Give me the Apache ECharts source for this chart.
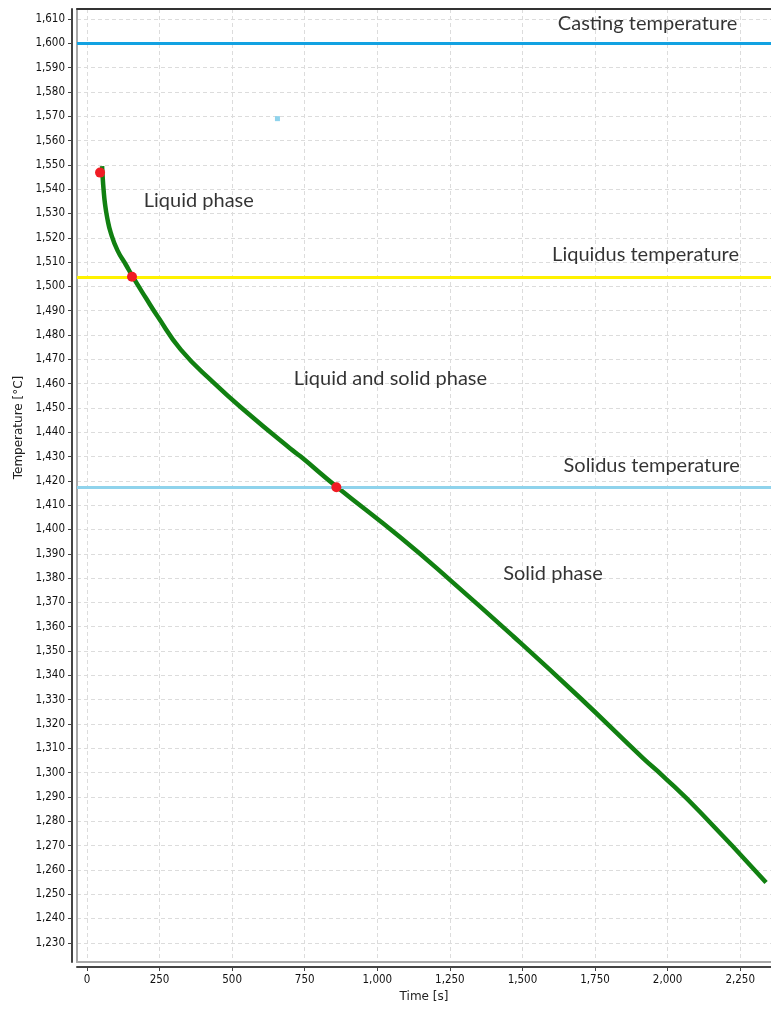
<!DOCTYPE html>
<html><head><meta charset="utf-8">
<script src="https://cdn.jsdelivr.net/npm/echarts@6/dist/echarts.min.js"></script>
<style>html,body{margin:0;padding:0;background:#fff}#c{width:771px;height:1012px}</style>
</head><body><div id="c"></div>
<script>
const xTicks = [0, 250, 500, 750, 1000, 1250, 1500, 1750, 2000, 2250];
const yTicks = [1230, 1240, 1250, 1260, 1270, 1280, 1290, 1300, 1310, 1320, 1330, 1340, 1350, 1360, 1370, 1380, 1390, 1400, 1410, 1420, 1430, 1440, 1450, 1460, 1470, 1480, 1490, 1500, 1510, 1520, 1530, 1540, 1550, 1560, 1570, 1580, 1590, 1600, 1610];

const coolingTime = [52, 54, 57, 62, 70, 82, 105, 134, 157, 203, 243, 323, 437, 552, 701, 735, 861, 1079, 1251, 1468, 1698, 1915, 1984, 2110, 2339];
const coolingTemp = [1549.5, 1545, 1540, 1534, 1528, 1522, 1514.8, 1508.9, 1504.1, 1495.2, 1487.7, 1474, 1460.3, 1448, 1433.2, 1430.1, 1417.5, 1396.8, 1379.2, 1356.1, 1330.8, 1306, 1298.6, 1284, 1254.8];

const castingTemp = 1600;
const liquidusTemp = 1503.6;
const solidusTemp = 1417.3;

const phasePointTime = [45, 155, 859];
const phasePointTemp = [1546.8, 1504, 1417.4];

const strayPoint = [656, 1569];

const annotationText = ['Casting temperature', 'Liquidus temperature', 'Solidus temperature', 'Liquid phase', 'Liquid and solid phase', 'Solid phase'];
const annotationTime = [1931, 1924, 1945, 385, 1045, 1605];
const annotationTemp = [1608, 1513, 1426.3, 1535.2, 1462, 1382];

const fmt = v => Number(v).toLocaleString('en-US');
const X_MIN = -34.4, X_MAX = 2356, Y_MIN = 1222.1, Y_MAX = 1614.1;
const frameAxis = { axisTick: { show: false }, axisLabel: { show: false }, splitLine: { show: false } };

const chart = echarts.init(document.getElementById('c'));
chart.setOption({
  animation: false,
  backgroundColor: '#fff',
  grid: { left: 77, top: 9, right: 0, bottom: 50, show: false },
  xAxis: [{
    type: 'value', min: X_MIN, max: X_MAX, offset: 5,
    name: 'Time [s]', nameLocation: 'middle', nameGap: 24,
    nameTextStyle: { fontFamily: 'DejaVu Sans', fontSize: 12, color: '#222' },
    axisLine: { show: true, onZero: false, lineStyle: { color: '#444', width: 2 } },
    axisTick: { show: true, customValues: xTicks, length: 4, lineStyle: { color: '#444' } },
    axisLabel: { customValues: xTicks, formatter: fmt, fontFamily: 'DejaVu Sans Condensed', fontSize: 11.5, color: '#111', margin: 7 },
    splitLine: { show: true, lineStyle: { color: '#dcdcdc', type: [4, 3], width: 1 } }
  }, Object.assign({
    type: 'value', position: 'top', min: X_MIN, max: X_MAX,
    axisLine: { show: true, onZero: false, lineStyle: { color: '#333', width: 2 } }
  }, frameAxis), Object.assign({
    type: 'value', position: 'bottom', min: X_MIN, max: X_MAX,
    axisLine: { show: true, onZero: false, lineStyle: { color: '#a8a8a8', width: 2 } }
  }, frameAxis)],
  yAxis: [{
    type: 'value', min: Y_MIN, max: Y_MAX, offset: 5,
    name: 'Temperature [°C]', nameLocation: 'middle', nameGap: 44,
    nameTextStyle: { fontFamily: 'DejaVu Sans', fontSize: 12, color: '#222', padding: [0, 0, 0, 116] },
    axisLine: { show: true, onZero: false, lineStyle: { color: '#444', width: 2 } },
    axisTick: { show: true, customValues: yTicks, length: 4, lineStyle: { color: '#444' } },
    axisLabel: { customValues: yTicks, formatter: fmt, fontFamily: 'DejaVu Sans Condensed', fontSize: 11.5, color: '#111', margin: 7 },
    splitLine: { show: true, lineStyle: { color: '#dcdcdc', type: [4, 3], width: 1 } }
  }, Object.assign({
    type: 'value', position: 'left', min: Y_MIN, max: Y_MAX,
    axisLine: { show: true, onZero: false, lineStyle: { color: '#a8a8a8', width: 2 } }
  }, frameAxis)],
  series: [
    {
      type: 'line', silent: true, symbol: 'none', data: [],
      markLine: {
        silent: true, symbol: 'none', label: { show: false },
        data: [
          { yAxis: castingTemp, lineStyle: { color: '#12a2e2', width: 3, type: 'solid' } },
          { yAxis: liquidusTemp, lineStyle: { color: '#fff200', width: 3, type: 'solid' } },
          { yAxis: solidusTemp, lineStyle: { color: '#8fd3ec', width: 3, type: 'solid' } }
        ]
      }
    },
    {
      type: 'line', symbol: 'none', smooth: 0.5, z: 3,
      lineStyle: { color: '#118011', width: 4.5 },
      data: coolingTime.map((t, i) => [t, coolingTemp[i]])
    },
    {
      type: 'scatter', symbol: 'circle', symbolSize: 10, z: 10,
      itemStyle: { color: '#f01c24', opacity: 1 },
      data: phasePointTime.map((t, i) => [t, phasePointTemp[i]])
    },
    {
      type: 'scatter', symbol: 'rect', symbolSize: 5,
      itemStyle: { color: '#8fd3ec', opacity: 1 },
      data: [strayPoint]
    },
    {
      type: 'scatter', symbolSize: 1, itemStyle: { color: 'rgba(0,0,0,0)' }, z: 12,
      label: { show: true, position: 'inside', formatter: '{b}', fontFamily: 'Lato', fontSize: 20, color: '#000' },
      data: annotationText.map((s, i) => ({ name: s, value: [annotationTime[i], annotationTemp[i]] }))
    }
  ]
});
</script></body></html>
